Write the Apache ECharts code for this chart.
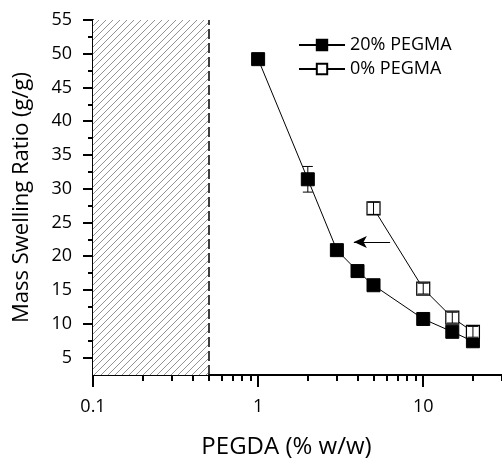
<!DOCTYPE html>
<html><head><meta charset="utf-8">
<script src="https://cdn.jsdelivr.net/npm/echarts@6/dist/echarts.min.js"></script>
<style>html,body{margin:0;padding:0;background:#fff}#c{width:502px;height:464px}</style>
</head><body><div id="c"></div>
<script>
// ---- data ----
const xPEGMA20 = [1, 2, 3, 4, 5, 10, 15, 20];
const yPEGMA20 = [49.2, 31.4, 20.9, 17.8, 15.7, 10.7, 8.8, 7.4];
const ePEGMA20 = [0.3, 1.9, 0.3, 0.3, 0.3, 0.3, 0.3, 0.3];
const xPEGMA0 = [5, 10, 15, 20];
const yPEGMA0 = [27.1, 15.2, 10.9, 8.8];
const ePEGMA0 = [0.9, 0.8, 0.8, 0.8];
const yTickLabels = [5, 10, 15, 20, 25, 30, 35, 40, 45, 50, 55];
const yMinorTicks = [7.5, 12.5, 17.5, 22.5, 27.5, 32.5, 37.5, 42.5, 47.5, 52.5];
const xTickLabels = [0.1, 1, 10];
const xMinorTicks = [0.2, 0.3, 0.4, 0.5, 0.6, 0.7, 0.8, 0.9, 2, 3, 4, 5, 6, 7, 8, 9, 20, 30];
const excludedRange = [0.1, 0.5];
const arrowFrom = [6.3, 22.1];
const arrowTo = [3.8, 22.1];

const FONT = '"Open Sans", "DejaVu Sans", sans-serif';

// hatch pattern
const pc = document.createElement('canvas');
const S = 7;
pc.width = S; pc.height = S;
const g = pc.getContext('2d');
g.fillStyle = '#fff'; g.fillRect(0, 0, S, S);
g.strokeStyle = '#6e6e6e'; g.lineWidth = 0.75;
g.beginPath();
g.moveTo(0, S); g.lineTo(S, 0);
g.moveTo(-1, 1); g.lineTo(1, -1);
g.moveTo(S - 1, S + 1); g.lineTo(S + 1, S - 1);
g.stroke();

function zip(xs, ys, es) { return xs.map((x, i) => es ? [x, ys[i], es[i]] : [x, ys[i]]); }

function errRender(capW) {
  return function (params, api) {
    const x = api.value(0), y = api.value(1), e = api.value(2);
    const hi = api.coord([x, y + e]), lo = api.coord([x, y - e]);
    const st = { stroke: '#000', lineWidth: 1 };
    return { type: 'group', children: [
      { type: 'line', shape: { x1: hi[0], y1: hi[1], x2: lo[0], y2: lo[1] }, style: st },
      { type: 'line', shape: { x1: hi[0] - capW, y1: hi[1], x2: hi[0] + capW, y2: hi[1] }, style: st },
      { type: 'line', shape: { x1: lo[0] - capW, y1: lo[1], x2: lo[0] + capW, y2: lo[1] }, style: st }
    ] };
  };
}

const chart = echarts.init(document.getElementById('c'), null, { renderer: 'canvas' });
const axisLineStyle = { color: '#000', width: 2 };
chart.setOption({
  animation: false,
  backgroundColor: '#fff',
  grid: { left: 93, right: 0, top: 20, bottom: 84 },
  legend: {
    data: ['20% PEGMA', '0% PEGMA'],
    orient: 'vertical', left: 293, top: 31,
    itemWidth: 46, itemHeight: 13, itemGap: 6,
    textStyle: { fontFamily: FONT, fontSize: 18, color: '#000' }
  },
  xAxis: [{
    type: 'log', logBase: 10, min: 0.1, max: 30,
    name: 'PEGDA (% w/w)', nameLocation: 'middle', nameGap: 60,
    nameTextStyle: { fontFamily: FONT, fontSize: 24, color: '#000', padding: [0, 22, 0, 0] },
    axisLine: { show: true, lineStyle: axisLineStyle },
    axisTick: { show: true, customValues: xTickLabels, length: 12, lineStyle: { color: '#000', width: 2 } },
    axisLabel: { customValues: xTickLabels, formatter: v => String(+v.toPrecision(3)), fontFamily: FONT, fontSize: 18, color: '#000', margin: 23 },
    splitLine: { show: false }, minorTick: { show: false }
  }, {
    type: 'log', logBase: 10, min: 0.1, max: 30, position: 'bottom',
    axisLine: { show: false },
    axisTick: { show: true, customValues: xMinorTicks, length: 6, lineStyle: { color: '#000', width: 2 } },
    axisLabel: { show: false }, splitLine: { show: false }
  }],
  yAxis: [{
    type: 'value', min: 2.4, max: 55,
    name: 'Mass Swelling Ratio (g/g)', nameLocation: 'middle', nameGap: 60, nameRotate: 90,
    nameTextStyle: { fontFamily: FONT, fontSize: 22, color: '#000' },
    axisLine: { show: true, lineStyle: axisLineStyle },
    axisTick: { show: true, customValues: yTickLabels, length: 10, lineStyle: { color: '#000', width: 2 } },
    axisLabel: { customValues: yTickLabels, fontFamily: FONT, fontSize: 18, color: '#000', margin: 21 },
    splitLine: { show: false }
  }, {
    type: 'value', min: 2.4, max: 55, position: 'left',
    axisLine: { show: false },
    axisTick: { show: true, customValues: yMinorTicks, length: 5, lineStyle: { color: '#000', width: 2 } },
    axisLabel: { show: false }, splitLine: { show: false }
  }],
  series: [{
    name: '20% PEGMA', type: 'line', data: zip(xPEGMA20, yPEGMA20),
    symbol: 'rect', symbolSize: 13, z: 5,
    lineStyle: { color: '#000', width: 1 },
    itemStyle: { color: '#000', borderColor: '#000', borderWidth: 1 },
    markArea: {
      silent: true,
      itemStyle: { color: { image: pc, repeat: 'repeat' } },
      data: [[{ xAxis: excludedRange[0] }, { xAxis: excludedRange[1] }]]
    },
    markLine: {
      silent: true, symbol: 'none', label: { show: false },
      lineStyle: { color: '#000', width: 1.5, type: [10, 4] },
      data: [{ xAxis: excludedRange[1] }]
    }
  }, {
    name: '0% PEGMA', type: 'line', data: zip(xPEGMA0, yPEGMA0),
    symbol: 'rect', symbolSize: 13, z: 5,
    lineStyle: { color: '#000', width: 1 },
    itemStyle: { color: '#fff', borderColor: '#000', borderWidth: 1.2 },
    markLine: {
      silent: true, label: { show: false },
      symbol: ['none', 'arrow'], symbolSize: [9, 13],
      lineStyle: { color: '#000', width: 1, type: 'solid' },
      data: [[{ coord: arrowFrom }, { coord: arrowTo }]]
    }
  }, {
    type: 'custom', data: zip(xPEGMA20, yPEGMA20, ePEGMA20), z: 4,
    renderItem: errRender(5), silent: true
  }, {
    type: 'custom', data: zip(xPEGMA0, yPEGMA0, ePEGMA0), z: 6,
    renderItem: errRender(5.5), silent: true
  }]
});
</script></body></html>
